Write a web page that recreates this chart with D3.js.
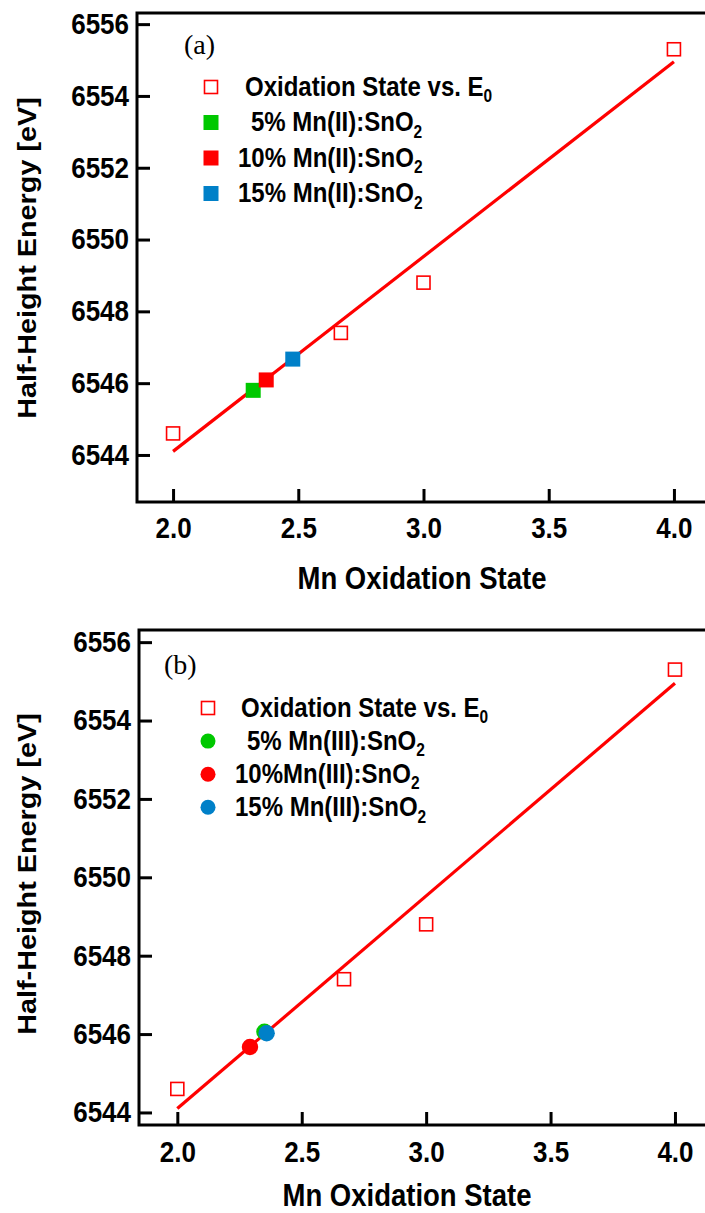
<!DOCTYPE html>
<html><head><meta charset="utf-8">
<script src="https://cdn.jsdelivr.net/npm/d3@7"></script>
<style>
html,body{margin:0;padding:0;background:#fff;}
svg{display:block;}
text{font-family:"Liberation Sans",Arial,Helvetica,sans-serif;font-weight:bold;fill:#000;white-space:pre;}
</style></head><body>
<svg id="chart" width="705" height="1213"></svg>
<script>
// ---- data ----
const refOx = [2.0, 2.67, 3.0, 4.0];
const refE = [6544.6, 6547.4, 6548.8, 6555.3];
const fitOx = [2.0, 4.0];
const fitE = [6544.1, 6554.95];
const xTicks = [2.0, 2.5, 3.0, 3.5, 4.0];
const yTicks = [6544, 6546, 6548, 6550, 6552, 6554, 6556];

const aLabels = ["5% Mn(II):SnO", "10% Mn(II):SnO", "15% Mn(II):SnO"];
const aOx = [2.32, 2.372, 2.478];
const aE = [6545.8, 6546.09, 6546.67];

const bLabels = ["5% Mn(III):SnO", "10%Mn(III):SnO", "15% Mn(III):SnO"];
const bOx = [2.35, 2.292, 2.359];
const bE = [6546.06, 6545.67, 6546.02];

const sampleColors = ["#00c800", "#ff0000", "#0080c8"];
const refLabel = "Oxidation State vs. E";

const svg = d3.select("#chart");
const SY = 1.13;

function panel(cfg) {
  const g = svg.append("g");
  const x = d3.scaleLinear().domain(cfg.xDom).range([cfg.left, cfg.right]);
  const y = d3.scaleLinear().domain(cfg.yDom).range([cfg.bottom, cfg.top]);

  // frame
  g.append("rect").attr("x", cfg.left).attr("y", cfg.top)
    .attr("width", cfg.right - cfg.left).attr("height", cfg.bottom - cfg.top)
    .attr("fill", "none").attr("stroke", "#000").attr("stroke-width", 3);

  // axes
  const yAx = g.append("g").attr("transform", `translate(${cfg.left},0)`)
    .call(d3.axisLeft(y).tickValues(yTicks).tickSize(-13).tickPadding(8).tickFormat(d3.format("d")));
  const xAx = g.append("g").attr("transform", `translate(0,${cfg.bottom})`)
    .call(d3.axisBottom(x).tickValues(xTicks).tickSize(-13).tickPadding(cfg.xPad).tickFormat(d3.format(".1f")));
  [yAx, xAx].forEach(ax => {
    ax.select(".domain").remove();
    ax.selectAll(".tick line").attr("stroke", "#000").attr("stroke-width", 3);
    ax.selectAll(".tick text").style("font-size", "26px").style("font-family", '"Liberation Sans",Arial,sans-serif')
      .style("font-weight", "bold").attr("fill", "#000").attr("transform", `scale(1,${SY})`);
  });

  // titles
  g.append("text").attr("text-anchor", "middle")
    .attr("transform", `translate(${cfg.xTitleX},${cfg.xTitleY}) scale(1,${SY})`)
    .style("font-size", "27.5px").text("Mn Oxidation State");
  g.append("text").attr("text-anchor", "middle")
    .attr("transform", `translate(${cfg.yTitleX},${cfg.yTitleY}) scale(1,${SY}) rotate(-90)`)
    .style("font-size", "25.5px").text("Half-Height Energy [eV]");

  // panel letter
  g.append("text").attr("x", cfg.letterX).attr("y", cfg.letterY)
    .style("font-family", '"Liberation Serif","Times New Roman",serif').style("font-weight", "normal")
    .style("font-size", "28px").text(cfg.letter);

  // fit line
  const line = d3.line().x((d, i) => x(fitOx[i])).y((d, i) => y(fitE[i]));
  g.append("path").datum(fitOx).attr("d", line).attr("fill", "none")
    .attr("stroke", "#ff0000").attr("stroke-width", 3.2);

  // reference squares
  const rs = 13;
  g.selectAll(".ref").data(refOx).enter().append("rect")
    .attr("x", (d) => x(d) - rs / 2).attr("y", (d, i) => y(refE[i]) - rs / 2)
    .attr("width", rs).attr("height", rs)
    .attr("fill", "#fff").attr("stroke", "#ff0000").attr("stroke-width", 1.6);

  // samples
  cfg.ox.forEach((o, i) => {
    if (cfg.shape === "square") {
      const s = 15;
      g.append("rect").attr("x", x(o) - s / 2).attr("y", y(cfg.e[i]) - s / 2)
        .attr("width", s).attr("height", s).attr("fill", sampleColors[i]);
    } else {
      g.append("circle").attr("cx", x(o)).attr("cy", y(cfg.e[i])).attr("r", 8.2)
        .attr("fill", sampleColors[i]);
    }
  });

  // legend
  const L = cfg.legend;
  const rows = [{ label: refLabel, sub: "0", pad: L.pad0 }].concat(
    cfg.labels.map((l, i) => ({ label: l, sub: "2", pad: L.pads[i + 1], color: sampleColors[i] })));
  rows.forEach((r, i) => {
    const cy = L.y0 + i * L.dy;
    if (i === 0) {
      g.append("rect").attr("x", L.mx - 6.5).attr("y", cy - 6.5).attr("width", 13).attr("height", 13)
        .attr("fill", "#fff").attr("stroke", "#ff0000").attr("stroke-width", 1.6);
    } else if (cfg.shape === "square") {
      g.append("rect").attr("x", L.mx - 7.5).attr("y", cy - 7.5).attr("width", 15).attr("height", 15)
        .attr("fill", r.color);
    } else {
      g.append("circle").attr("cx", L.mx).attr("cy", cy).attr("r", 7.5).attr("fill", r.color);
    }
    const t = g.append("text").attr("transform", `translate(${L.tx + r.pad},${cy + 8.5}) scale(1,${SY})`)
      .style("font-size", "24px");
    t.append("tspan").text(r.label);
    t.append("tspan").attr("dy", 6).style("font-size", "15.5px").text(r.sub);
  });
}

panel({
  xDom: [1.856, 4.14], yDom: [6542.69, 6556.31],
  left: 137, right: 709, top: 13, bottom: 502, xPad: 13,
  xTitleX: 422, xTitleY: 589, yTitleX: 36, yTitleY: 258,
  letter: "(a)", letterX: 184, letterY: 54,
  ox: aOx, e: aE, labels: aLabels, shape: "square",
  legend: { mx: 211, y0: 87, dy: 35.5, tx: 238, pad0: 7, pads: [7, 13, 0, 0] }
});
panel({
  xDom: [1.846, 4.14], yDom: [6543.68, 6556.31],
  left: 139, right: 709.8, top: 630, bottom: 1125, xPad: 14,
  xTitleX: 407, xTitleY: 1206, yTitleX: 36, yTitleY: 874,
  letter: "(b)", letterX: 164, letterY: 674,
  ox: bOx, e: bE, labels: bLabels, shape: "circle",
  legend: { mx: 208, y0: 708, dy: 33.1, tx: 235, pad0: 6, pads: [6, 12, 0, 0] }
});
</script>
</body></html>
